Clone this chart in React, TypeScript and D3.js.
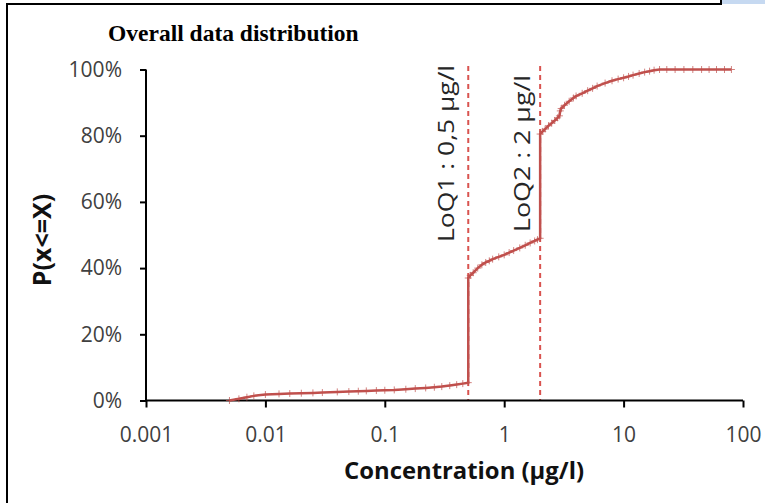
import React, { useEffect, useRef } from 'react';
import * as d3 from 'd3';

// cumulative distribution (concentration in µg/l, P in %)
const concentrations = [
  0.005, 0.006, 0.007, 0.008, 0.01, 0.013, 0.016, 0.02, 0.025, 0.03, 0.04, 0.05, 0.06, 0.07, 0.085,
  0.1, 0.12, 0.15, 0.18, 0.22, 0.26, 0.3, 0.35, 0.4, 0.45, 0.5,
  0.5, 0.52, 0.55, 0.6, 0.65, 0.7, 0.75, 0.8, 0.9, 1, 1.1, 1.2, 1.35, 1.5, 1.65, 1.8, 1.9, 2,
  2, 2.1, 2.2, 2.35, 2.5, 2.65, 2.8, 2.9, 2.95, 3, 3.2, 3.5, 3.8, 4, 4.5, 5, 5.5, 6, 7, 8, 9, 10,
  11, 12, 13.5, 15, 16.5, 18, 20, 23, 27, 32, 38, 45, 52, 60, 70, 80,
];
const cumulative = [
  0, 0.5, 1, 1.4, 1.8, 2, 2.1, 2.2, 2.3, 2.4, 2.6, 2.7, 2.8, 2.9, 3,
  3.1, 3.2, 3.4, 3.6, 3.8, 4, 4.2, 4.5, 4.8, 5.1, 5.4,
  37, 37.8, 38.6, 40, 41, 41.7, 42.2, 42.7, 43.4, 44, 44.7, 45.3, 46.1, 46.9, 47.6, 48.2, 48.6, 49,
  80.5, 81.3, 82, 83, 83.8, 84.6, 85.4, 86, 87.5, 88.2, 89.2, 90.4, 91.4, 92, 92.8, 93.6, 94.3, 95, 95.9, 96.6, 97.1, 97.5,
  97.9, 98.3, 98.8, 99.2, 99.5, 99.8, 100, 100, 100, 100, 100, 100, 100, 100, 100, 100,
];

const xTicks = [0.001, 0.01, 0.1, 1, 10, 100];
const xTickLabels = ['0.001', '0.01', '0.1', '1', '10', '100'];
const yTicks = [0, 20, 40, 60, 80, 100];

const loqValues = [0.5, 2];
const loqLabels = ['LoQ1 : 0,5 µg/l', 'LoQ2 : 2 µg/l'];

const W = 765;
const H = 503;
const RED = '#c0504d';
const SANS = '"Open Sans", sans-serif';

export default function App() {
  const ref = useRef<SVGSVGElement>(null);

  useEffect(() => {
    const svg = d3.select(ref.current);
    svg.selectAll('*').remove();

    const x = d3.scaleLog().domain([0.001, 100]).range([146, 743]);
    const y = d3.scaleLinear().domain([0, 100]).range([400.5, 69.5]);

    svg.append('rect').attr('width', W).attr('height', H).attr('fill', '#fff');

    // page frame
    svg.append('line').attr('x1', 7).attr('x2', 7).attr('y1', 3).attr('y2', H)
      .attr('stroke', '#000').attr('stroke-width', 2);
    svg.append('line').attr('x1', 6).attr('x2', 721).attr('y1', 4).attr('y2', 4)
      .attr('stroke', '#000').attr('stroke-width', 2);
    svg.append('rect').attr('x', 722).attr('y', 0).attr('width', 43).attr('height', 4)
      .attr('fill', '#c6d9f1');
    svg.append('line').attr('x1', 721).attr('x2', 721).attr('y1', 0).attr('y2', 5)
      .attr('stroke', '#000').attr('stroke-width', 2);

    // title
    svg.append('text')
      .attr('x', 108).attr('y', 41)
      .attr('font-family', '"Liberation Serif", "Times New Roman", serif')
      .attr('font-weight', 'bold').attr('font-size', 23.5)
      .attr('fill', '#000')
      .text('Overall data distribution');

    // LoQ dashed lines + labels
    const labelTop = [65, 75];
    const labelLen = [177, 157];
    const labelGap = [14, 10];
    loqValues.forEach((v, i) => {
      svg.append('line')
        .attr('x1', x(v)).attr('x2', x(v))
        .attr('y1', 66).attr('y2', 401)
        .attr('stroke', '#d9534f').attr('stroke-width', 2)
        .attr('stroke-dasharray', '5,4');
      svg.append('text')
        .attr('transform', `translate(${x(v) - labelGap[i]},${labelTop[i]}) rotate(-90)`)
        .attr('text-anchor', 'end')
        .attr('font-family', SANS).attr('font-size', 22)
        .attr('textLength', labelLen[i]).attr('lengthAdjust', 'spacingAndGlyphs')
        .attr('fill', '#262626')
        .text(loqLabels[i]);
    });

    // axes
    const xAxis = svg.append('g').attr('transform', `translate(0,${y(0)})`)
      .call(d3.axisBottom(x).tickValues(xTicks).tickSize(7).tickFormat((d, i) => xTickLabels[i]));
    xAxis.select('.domain').attr('stroke', '#000').attr('stroke-width', 2).attr('d', `M146,0H743`);
    xAxis.selectAll('.tick line').attr('stroke', '#000').attr('stroke-width', 2);
    xAxis.selectAll('.tick text')
      .attr('font-family', SANS).attr('font-size', 21).attr('fill', '#404040').attr('y', 27);

    const yAxis = svg.append('g').attr('transform', 'translate(146,0)')
      .call(d3.axisLeft(y).tickValues(yTicks).tickSize(6).tickFormat(d => `${d}%`));
    yAxis.select('.domain').attr('stroke', '#000').attr('stroke-width', 2).attr('d', `M0,${y(100)}V${y(0)}`);
    yAxis.selectAll('.tick line').attr('stroke', '#000').attr('stroke-width', 2);
    yAxis.selectAll('.tick text')
      .attr('font-family', SANS).attr('font-size', 21).attr('fill', '#404040').attr('x', -24);

    // axis titles
    svg.append('text')
      .attr('x', 464).attr('y', 479)
      .attr('text-anchor', 'middle')
      .attr('font-family', SANS).attr('font-weight', 'bold').attr('font-size', 24)
      .attr('textLength', 240).attr('lengthAdjust', 'spacingAndGlyphs')
      .attr('fill', '#111')
      .text('Concentration (µg/l)');
    svg.append('text')
      .attr('transform', 'translate(51,240) rotate(-90)')
      .attr('text-anchor', 'middle')
      .attr('font-family', SANS).attr('font-weight', 'bold').attr('font-size', 25)
      .attr('fill', '#111')
      .text('P(x<=X)');

    // curve
    const pts = concentrations.map((c, i) => [c, cumulative[i]] as [number, number]);
    const line = d3.line<[number, number]>().x(d => x(d[0])).y(d => y(d[1]));
    svg.append('path').datum(pts)
      .attr('d', line)
      .attr('fill', 'none').attr('stroke', RED).attr('stroke-width', 2.5);

    svg.append('g').selectAll('path.mk').data(pts).enter().append('path')
      .attr('class', 'mk')
      .attr('d', d => {
        const cx = x(d[0]);
        const cy = y(d[1]);
        return `M${cx - 3.5},${cy}H${cx + 3.5}M${cx},${cy - 3.5}V${cy + 3.5}`;
      })
      .attr('stroke', RED).attr('stroke-width', 1).attr('opacity', 0.7);
  }, []);

  return (
    <svg ref={ref} width={W} height={H}
      style={{ position: 'absolute', left: 0, top: 0, display: 'block' }} />
  );
}
